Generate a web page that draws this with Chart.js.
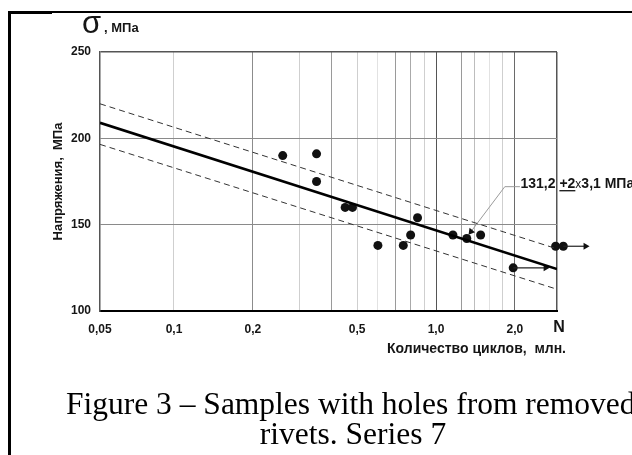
<!DOCTYPE html>
<html>
<head>
<meta charset="utf-8">
<script src="https://cdn.jsdelivr.net/npm/chart.js@4.4.1/dist/chart.umd.min.js"></script>
<style>
  html, body { margin: 0; padding: 0; background: #fff; }
  body { width: 632px; height: 455px; position: relative; overflow: hidden; }
  #wrap { position: absolute; left: 0; top: 0; width: 632px; height: 455px; }
  .frame { position: absolute; background: #000; z-index: 2; }
  .caption {
    position: absolute; white-space: nowrap; color: #000;
    font-family: "Liberation Serif", "Times New Roman", serif;
    font-size: 31.5px; line-height: 30px; z-index: 2;
  }
</style>
</head>
<body>
<div id="wrap"><canvas id="fatigue"></canvas></div>
<div class="frame" style="left:8px; top:11px; width:624px; height:2px;"></div>
<div class="frame" style="left:8px; top:11px; width:44px; height:3px;"></div>
<div class="frame" style="left:8px; top:11px; width:3px; height:444px;"></div>
<div class="caption" style="left:66px; top:389px;">Figure 3 – Samples with holes from removed</div>
<div class="caption" style="left:153px; width:400px; top:419px; text-align:center;">rivets. Series 7</div>

<script>
// axis range (millions of cycles / MPa)
const xMin = 0.0522, xMax = 2.895;
const yMin = 100, yMax = 250;

// vertical grid lines and their labels
const xGrid = [xMin, 0.1, 0.2, 0.3, 0.4, 0.5, 0.6, 0.7, 0.8, 0.9, 1, 1.25, 1.4, 1.6, 1.8, 2, xMax];
const xLabels = ['0,05', '0,1', '0,2', '', '', '0,5', '', '', '', '', '1,0', '', '', '', '', '2,0', ''];
const xGridColors = ['rgba(0,0,0,0)', '#cfcfcf', '#8c8c8c', '#cfcfcf', '#9a9a9a', '#cfcfcf', '#e2e2e2', '#9a9a9a',
  '#aaaaaa', '#cfcfcf', '#555555', '#9a9a9a', '#bdbdbd', '#e2e2e2', '#cfcfcf', '#6a6a6a', '#555555'];

// test results
const cycles = [0.26, 0.35, 0.35, 0.45, 0.48, 0.60, 0.75, 0.80, 0.85, 1.16, 1.31, 1.48, 1.97, 2.86, 3.06];
const stress = [190, 191, 175, 160, 160, 138, 138, 144, 154, 144, 142, 144, 125, 137.5, 137.5];

// fitted curve and its 2-sigma band
const fitN = [xMin, xMax];
const fitMean = [209, 124.3];
const fitUpper = [220, 136];
const fitLower = [196.5, 112.6];

// run-out arrows (samples that did not fail)
const runoutN = [[1.97, 2.62], [3.06, 3.72]];
const runoutS = [125, 137.5];

// annotation leader
const leaderN = [2.09, 1.83, 1.36];
const leaderS = [172, 172, 146];
const noteN = 2.1, noteS = 171.2;

const FONT = '"Liberation Sans", Arial, sans-serif';

function pts(xs, ys) {
  return xs.map((x, i) => ({x: x, y: ys[i]}));
}

// points past the right border (run-outs) must still be drawn
const widenArea = {
  id: 'widenArea',
  beforeDatasetsDraw(chart) {
    this.savedRight = chart.chartArea.right;
    chart.chartArea.right = chart.width;
  },
  afterDatasetsDraw(chart) {
    chart.chartArea.right = this.savedRight;
  }
};

const textPlugin = {
  id: 'extraText',
  afterDraw(chart) {
    const ctx = chart.ctx;
    const xs = chart.scales.x, ys = chart.scales.y;
    ctx.save();
    ctx.fillStyle = '#151515';
    ctx.textBaseline = 'alphabetic';
    ctx.textAlign = 'left';
    ctx.font = '31px ' + FONT;
    ctx.fillText('σ', 82, 33);
    ctx.font = 'bold 13px ' + FONT;
    ctx.fillText(', МПа', 104, 32);

    ctx.font = 'bold 16px ' + FONT;
    ctx.textAlign = 'center';
    ctx.fillText('N', 559, 332);
    ctx.font = 'bold 14px ' + FONT;
    ctx.textAlign = 'right';
    ctx.fillText('Количество циклов,  млн.', 566, 353);

    // 131,2 ±2x3,1 MPa
    ctx.textAlign = 'left';
    let px = xs.getPixelForValue(noteN);
    const py = ys.getPixelForValue(noteS);
    ctx.font = 'bold 14px ' + FONT;
    ctx.fillText('131,2 ', px, py);
    px += ctx.measureText('131,2 ').width;
    const w = ctx.measureText('+2').width;
    ctx.fillText('+2', px, py);
    ctx.fillRect(px, py + 2, w, 1.3);
    px += w;
    ctx.font = '12px ' + FONT;
    ctx.fillText('x', px, py);
    px += ctx.measureText('x').width;
    ctx.font = 'bold 14px ' + FONT;
    ctx.fillText('3,1 МПа', px, py);
    ctx.restore();
  }
};

const arrowSets = runoutN.map((xs, i) => ({
  data: pts(xs, [runoutS[i], runoutS[i]]),
  showLine: true,
  borderColor: '#222',
  borderWidth: 1.2,
  pointRadius: [0, 4],
  pointStyle: 'triangle',
  rotation: 90,
  pointBackgroundColor: '#111',
  pointBorderColor: '#111',
  pointBorderWidth: 0,
  clip: false
}));

new Chart(document.getElementById('fatigue'), {
  type: 'scatter',
  data: {
    datasets: [
      {
        data: pts(fitN, fitMean),
        showLine: true, borderColor: '#000', borderWidth: 2.6, pointRadius: 0
      },
      {
        data: pts(fitN, fitUpper),
        showLine: true, borderColor: '#333', borderWidth: 1, borderDash: [6, 4], pointRadius: 0
      },
      {
        data: pts(fitN, fitLower),
        showLine: true, borderColor: '#333', borderWidth: 1, borderDash: [6, 4], pointRadius: 0
      },
      {
        data: pts(leaderN, leaderS),
        showLine: true, borderColor: '#9a9a9a', borderWidth: 1,
        pointRadius: [0, 0, 4], pointStyle: 'triangle', rotation: 218,
        pointBackgroundColor: '#111', pointBorderWidth: 0, clip: false
      },
      ...arrowSets,
      {
        data: pts(cycles, stress),
        pointRadius: 4.5, pointBackgroundColor: '#111', pointBorderWidth: 0, clip: false
      }
    ]
  },
  options: {
    responsive: true,
    maintainAspectRatio: false,
    animation: false,
    layout: { padding: { top: 52, right: 75, left: 0, bottom: 0 } },
    plugins: {
      legend: { display: false },
      tooltip: { enabled: false }
    },
    scales: {
      x: {
        type: 'logarithmic',
        min: xMin,
        max: xMax,
        afterBuildTicks: function(scale) {
          scale.ticks = xGrid.map(v => ({value: v}));
        },
        afterFit: function(scale) { scale.height = 144; },
        ticks: {
          autoSkip: false,
          maxRotation: 0,
          padding: 11,
          color: '#151515',
          font: { family: FONT, size: 12, weight: 'bold' },
          callback: function(value, index) { return xLabels[index]; }
        },
        grid: {
          drawTicks: false,
          color: c => xGridColors[c.index],
          lineWidth: c => (c.index === xGrid.length - 1 ? 1.5 : 1)
        },
        border: { color: '#000', width: 2 }
      },
      y: {
        min: yMin,
        max: yMax,
        afterFit: function(scale) { scale.width = 100; },
        ticks: {
          stepSize: 50,
          padding: 9,
          color: '#151515',
          font: { family: FONT, size: 12, weight: 'bold' }
        },
        grid: {
          drawTicks: false,
          color: c => (c.tick.value === yMax ? '#555' : '#8a8a8a'),
          lineWidth: c => (c.tick.value === yMax ? 1.5 : 1)
        },
        border: { color: '#555', width: 1.5 },
        title: {
          display: true,
          text: 'Напряжения,  МПа',
          color: '#151515',
          font: { family: FONT, size: 13, weight: 'bold' },
          padding: { top: 51, bottom: 0 }
        }
      }
    }
  },
  plugins: [widenArea, textPlugin]
});
</script>
</body>
</html>
